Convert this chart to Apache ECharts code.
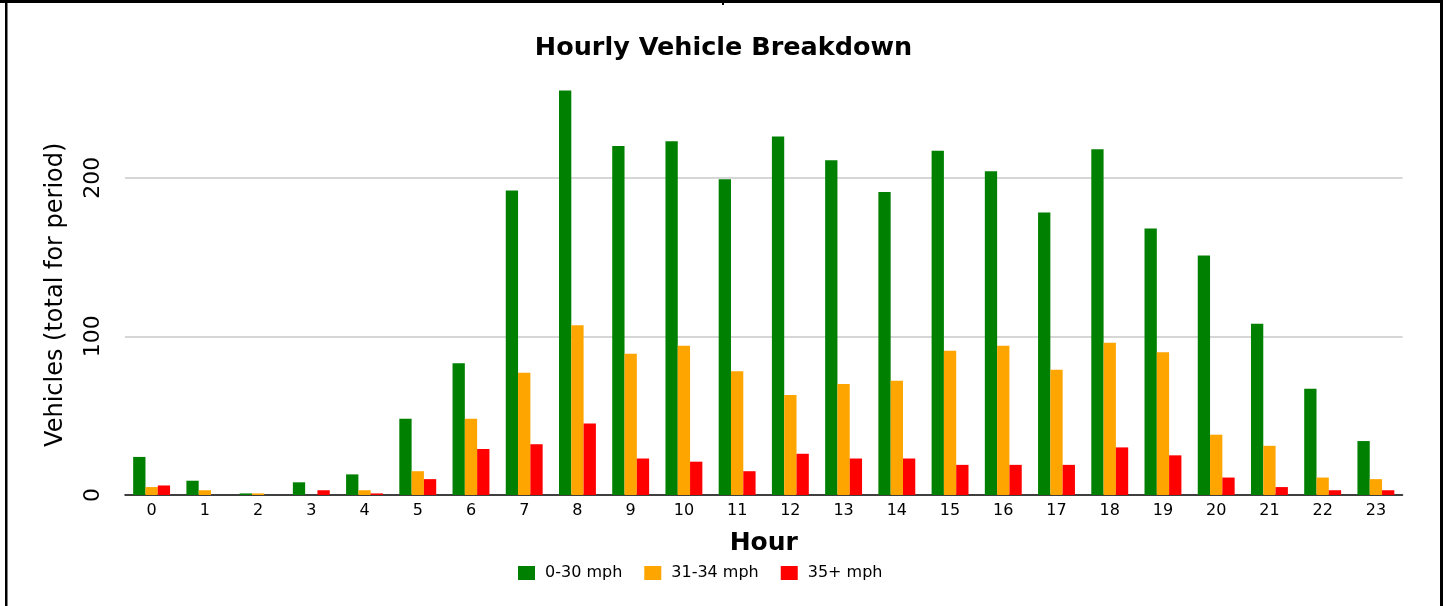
<!DOCTYPE html>
<html>
<head>
<meta charset="utf-8">
<script src="https://cdn.jsdelivr.net/npm/echarts@6/dist/echarts.min.js"></script>
<style>
html,body{margin:0;padding:0;background:#fff;}
#chart{width:1447px;height:606px;}
</style>
</head>
<body>
<div id="chart"></div>
<script>
const hours = ['0','1','2','3','4','5','6','7','8','9','10','11','12','13','14','15','16','17','18','19','20','21','22','23'];
const slowSpeed = [24,9,1,8,13,48,83,192,255,220,223,199,226,211,191,217,204,178,218,168,151,108,67,34];
const midSpeed  = [5,3,1,0,3,15,48,77,107,89,94,78,63,70,72,91,94,79,96,90,38,31,11,10];
const fastSpeed = [6,0,0,3,1,10,29,32,45,23,21,15,26,23,23,19,19,19,30,25,11,5,3,3];
const seriesNames = ['0-30 mph','31-34 mph','35+ mph'];
const seriesColors = ['#008000','#FFA500','#FF0000'];

const chart = echarts.init(document.getElementById('chart'), null, {renderer:'canvas'});
const font = 'DejaVu Sans, Verdana, sans-serif';
const dataSets = [slowSpeed, midSpeed, fastSpeed];

chart.setOption({
  animation:false,
  backgroundColor:'#fff',
  title:{
    text:'Hourly Vehicle Breakdown',
    left:'center', top:30,
    textStyle:{fontFamily:font, fontWeight:'bold', fontSize:25.5, color:'#000'}
  },
  legend:{
    left:513, top:560,
    itemWidth:17, itemHeight:14, itemGap:22,
    icon:'rect',
    textStyle:{fontFamily:font, fontSize:16, color:'#000', padding:[0,0,0,5]},
    data:seriesNames
  },
  grid:{left:125, right:44.5, top:82.5, bottom:111, containLabel:false},
  xAxis:{
    type:'category',
    data:hours,
    name:'Hour',
    nameLocation:'middle',
    nameGap:36,
    nameTextStyle:{fontFamily:font, fontWeight:'bold', fontSize:25, color:'#000'},
    axisLine:{lineStyle:{color:'#000', width:1.5}},
    axisTick:{alignWithLabel:true, length:5, lineStyle:{color:'#000'}},
    axisLabel:{fontFamily:font, fontSize:16, color:'#000', margin:8, interval:0},
    splitLine:{show:false}
  },
  yAxis:{
    type:'value',
    min:0, max:260, interval:100,
    name:'Vehicles (total for period)',
    nameLocation:'middle',
    nameGap:57,
    nameTextStyle:{fontFamily:font, fontSize:24, color:'#000', padding:[0,0,0,-12]},
    axisLine:{show:false},
    axisTick:{show:false},
    axisLabel:{fontFamily:font, fontSize:22, color:'#000', rotate:90, margin:21, showMaxLabel:false},
    splitLine:{show:true, showMaxLine:false, showMinLine:false, lineStyle:{color:'#c8c8c8', width:1.5}}
  },
  series: dataSets.map((d,i)=>({
    name:seriesNames[i],
    type:'bar',
    data:d,
    barWidth:12.3,
    barGap:'0%',
    itemStyle:{color:seriesColors[i]}
  })),
  graphic:[
    {type:'rect', shape:{x:0,y:0,width:1443,height:3}, style:{fill:'#000'}, silent:true},
    {type:'rect', shape:{x:5,y:0,width:2.5,height:606}, style:{fill:'#000'}, silent:true},
    {type:'rect', shape:{x:1440,y:0,width:3,height:606}, style:{fill:'#000'}, silent:true},
    {type:'rect', shape:{x:722,y:3,width:2,height:2}, style:{fill:'#000'}, silent:true}
  ]
});
</script>
</body>
</html>
